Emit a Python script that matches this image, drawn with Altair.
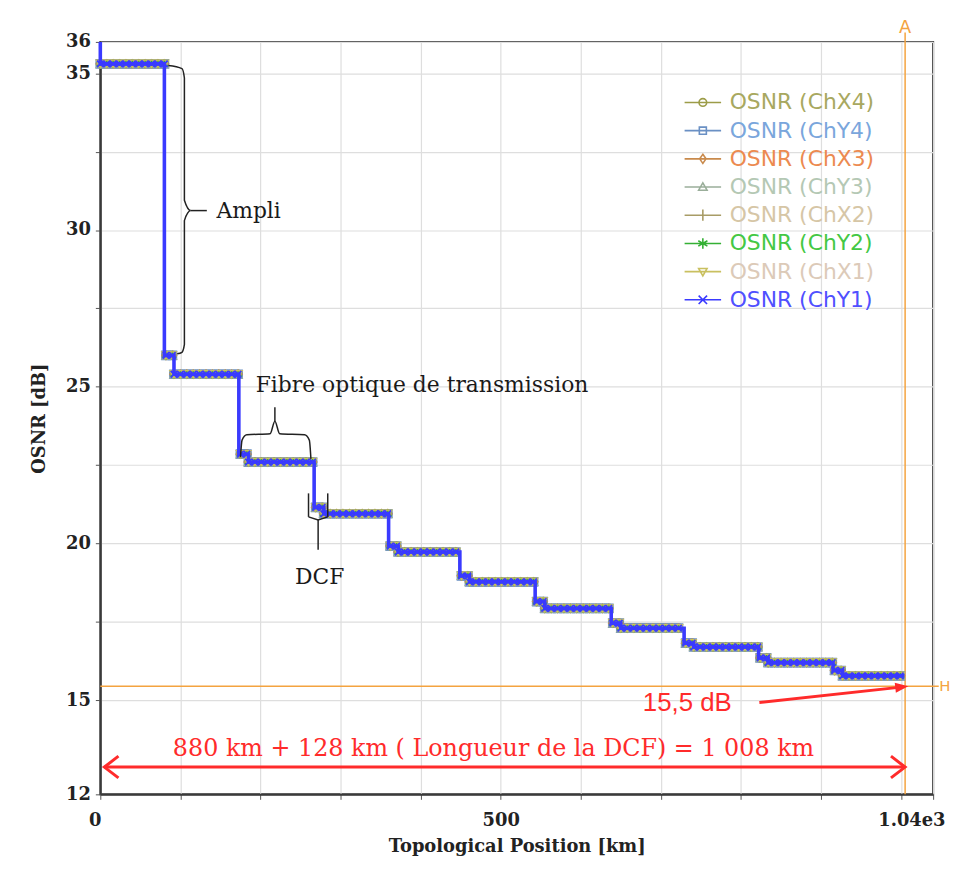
import json
import altair as alt
import numpy as np
import pandas as pd

# ---------------- data ----------------
series_names = ["OSNR (ChX4)", "OSNR (ChY4)", "OSNR (ChX3)", "OSNR (ChY3)",
                "OSNR (ChX2)", "OSNR (ChY2)", "OSNR (ChX1)", "OSNR (ChY1)"]
line_colors = ["#9c9c48", "#6a90c4", "#c98a4c", "#9aae9a",
               "#a89c66", "#34b034", "#c9c060", "#3a3aff"]
label_colors = ["#a8a860", "#7aa6dc", "#ec8a50", "#b4c8b4",
                "#d6c6a6", "#44c844", "#dccab8", "#5050ff"]

launch_osnr = 36.0
fiber_start_km = [0, 92, 185, 279, 372, 461, 555, 650, 741, 834, 927]
fiber_end_km = [80, 173, 267, 360, 449, 543, 638, 729, 822, 915, 1004]
fiber_osnr = [35.3, 25.4, 22.6, 20.95, 19.73, 18.78, 17.93, 17.3, 16.7, 16.2, 15.78]
dcf_osnr = [26.0, 22.85, 21.15, 19.92, 18.97, 18.15, 17.46, 16.82, 16.35, 15.95]

x_tick_values = [0, 100, 200, 300, 400, 500, 600, 700, 800, 900, 1000, 1040]
x_tick_labels = ["0", "", "", "", "", "500", "", "", "", "", "", "1.04e3"]
y_tick_values = [12, 15, 17.5, 20, 22.5, 25, 27.5, 30, 32.5, 35, 36]
y_tick_labels = ["12", "15", "", "20", "", "25", "", "30", "", "35", "36"]

cursor_km = 1005
cursor_osnr = 15.45
cursor_label = "15,5 dB"
total_text = "880 km + 128 km ( Longueur de la DCF) = 1 008 km"

# annotation geometry (km, dB)
ampli_brace_km = [85, 102, 105, 105, 113, 105, 105, 102, 96]
ampli_brace_db = [35.25, 35.15, 34.85, 30.95, 30.62, 30.3, 26.35, 26.1, 26.05]
ampli_tick_km = [113, 133]
ampli_tick_db = [30.62, 30.62]
fibre_brace_km = [175, 177, 183, 212, 218, 224, 255, 261, 263]
fibre_brace_db = [22.75, 23.3, 23.47, 23.5, 23.9, 23.5, 23.47, 23.3, 22.7]
fibre_stem_km = [218, 218]
fibre_stem_db = [23.9, 24.35]
dcf_left_km = [260, 260]
dcf_left_db = [21.6, 20.85]
dcf_right_km = [284, 284]
dcf_right_db = [21.6, 20.85]
dcf_v_km = [260, 272, 284]
dcf_v_db = [20.85, 20.75, 20.85]
dcf_stem_km = [272, 272]
dcf_stem_db = [20.75, 19.8]

# ---------------- styling ----------------
MARKER_STEP_KM = 8
SERIF = "DejaVu Serif"
RED = "#ff2b2b"
ORANGE = "#f4a340"
point_shapes = ["circle", "square", "diamond", "triangle-up",
                "M0,-1L0,1M-1,0L1,0",
                "M0,-1L0,1M-0.87,-0.5L0.87,0.5M-0.87,0.5L0.87,-0.5",
                "triangle-down",
                "M-1,-1L1,1M-1,1L1,-1"]
L = "M-2.6,0L2.6,0"
legend_paths = [
    L + "M-0.55,0A0.55,0.55,0,1,1,0.55,0A0.55,0.55,0,1,1,-0.55,0Z",
    L + "M-0.5,-0.5L0.5,-0.5L0.5,0.5L-0.5,0.5Z",
    L + "M0,-0.65L0.45,0L0,0.65L-0.45,0Z",
    L + "M0,-0.6L0.6,0.45L-0.6,0.45Z",
    L + "M0,-0.8L0,0.8",
    L + "M0,-0.75L0,0.75M-0.65,-0.38L0.65,0.38M-0.65,0.38L0.65,-0.38",
    L + "M-0.6,-0.45L0.6,-0.45L0,0.6Z",
    L + "M-0.6,-0.6L0.6,0.6M-0.6,0.6L0.6,-0.6",
]

# ---------------- build tables ----------------
step_pts = [(0, launch_osnr)]
for i in range(len(fiber_osnr)):
    step_pts.append((fiber_start_km[i], fiber_osnr[i]))
    step_pts.append((fiber_end_km[i], fiber_osnr[i]))
    if i < len(dcf_osnr):
        step_pts.append((fiber_end_km[i], dcf_osnr[i]))
        step_pts.append((fiber_start_km[i + 1], dcf_osnr[i]))

marker_pts = []
for i in range(len(fiber_osnr)):
    for xv in np.arange(fiber_start_km[i], fiber_end_km[i] + 0.01, MARKER_STEP_KM):
        marker_pts.append((float(xv), fiber_osnr[i]))
    if i < len(dcf_osnr):
        marker_pts.append((fiber_end_km[i] + 2, dcf_osnr[i]))
        marker_pts.append((fiber_start_km[i + 1] - 2, dcf_osnr[i]))

line_rows, pt_rows = [], []
for name in series_names:
    for k, (xv, yv) in enumerate(step_pts):
        line_rows.append({"series": name, "k": k, "km": xv, "osnr": yv})
    for xv, yv in marker_pts:
        pt_rows.append({"series": name, "km": xv, "osnr": yv})
lines_df = pd.DataFrame(line_rows)
pts_df = pd.DataFrame(pt_rows)
under_lines = lines_df[lines_df.series != series_names[-1]]
top_line = lines_df[lines_df.series == series_names[-1]]
under_pts = pts_df[pts_df.series != series_names[-1]]
top_pts = pts_df[pts_df.series == series_names[-1]]

xs = alt.Scale(domain=[0, 1040], nice=False, zero=False)
ys = alt.Scale(domain=[12, 36], nice=False, zero=False)
cscale = alt.Scale(domain=series_names, range=line_colors)

names_js = json.dumps(series_names)
label_color_expr = f"{json.dumps(label_colors)}[indexof({names_js}, datum.value)]"
symbol_color_expr = f"{json.dumps(line_colors)}[indexof({names_js}, datum.value)]"

X = alt.X("km:Q", scale=xs, axis=alt.Axis(
    title="Topological Position [km]", values=x_tick_values,
    labelExpr=f"{json.dumps(x_tick_labels)}[indexof({json.dumps(x_tick_values)}, datum.value)]",
    labelFlush=True, labelFlushOffset=12))
Y = alt.Y("osnr:Q", scale=ys, axis=alt.Axis(
    title="OSNR [dB]", values=y_tick_values,
    labelExpr=f"{json.dumps(y_tick_labels)}[indexof({json.dumps(y_tick_values)}, datum.value)]"))

base_lines = alt.Chart(under_lines).mark_line(strokeWidth=2).encode(
    x=X, y=Y, color=alt.Color("series:N", scale=cscale, legend=None), order="k:Q")
base_pts = alt.Chart(under_pts).mark_point(filled=False, size=72, strokeWidth=1.3, opacity=1).encode(
    x="km:Q", y="osnr:Q", color=alt.Color("series:N", scale=cscale, legend=None),
    shape=alt.Shape("series:N", scale=alt.Scale(domain=series_names, range=point_shapes), legend=None))
blue_line = alt.Chart(top_line).mark_line(strokeWidth=3.6, color=line_colors[-1]).encode(
    x="km:Q", y="osnr:Q", order="k:Q")
blue_pts = alt.Chart(top_pts).mark_point(filled=False, size=44, strokeWidth=1.7, opacity=1,
                                         shape=point_shapes[-1], color=line_colors[-1]).encode(
    x="km:Q", y="osnr:Q")

leg_common = dict(orient="none", legendX=588, legendY=50, title=None,
                  labelFont="DejaVu Sans", labelFontSize=22, labelColor={"expr": label_color_expr},
                  symbolSize=200, symbolStrokeWidth=1.6, symbolOpacity=1, symbolFillColor="transparent",
                  symbolStrokeColor={"expr": symbol_color_expr},
                  rowPadding=6.4, labelOffset=16, symbolOffset=8)
legend_layer = alt.Chart(pd.DataFrame({"series": series_names})).mark_point(
    filled=False, opacity=0).encode(
    x=alt.datum(500), y=alt.datum(24),
    color=alt.Color("series:N", scale=cscale, legend=alt.Legend(**leg_common)),
    shape=alt.Shape("series:N", scale=alt.Scale(domain=series_names, range=legend_paths),
                    legend=alt.Legend(**leg_common)))

# orange cursors
vcur = alt.Chart(pd.DataFrame({"km": [cursor_km], "y0": [36.3], "y1": [12]})).mark_rule(
    color=ORANGE, strokeWidth=1.5).encode(x="km:Q", y="y0:Q", y2="y1:Q")
vcur_lbl = alt.Chart(pd.DataFrame({"km": [cursor_km], "osnr": [36.45], "t": ["A"]})).mark_text(
    color=ORANGE, font="DejaVu Sans", fontSize=18, baseline="middle").encode(x="km:Q", y="osnr:Q", text="t:N")
hcur = alt.Chart(pd.DataFrame({"x0": [0], "x1": [1047], "osnr": [cursor_osnr]})).mark_rule(
    color=ORANGE, strokeWidth=1.5).encode(x="x0:Q", x2="x1:Q", y="osnr:Q")
hcur_lbl = alt.Chart(pd.DataFrame({"km": [1047.5], "osnr": [cursor_osnr], "t": ["H"]})).mark_text(
    color=ORANGE, font="DejaVu Sans", fontSize=15, align="left", baseline="middle").encode(
    x="km:Q", y="osnr:Q", text="t:N")

# black annotations
def poly(xv, yv, gid):
    return pd.DataFrame({"km": xv, "osnr": yv, "k": list(range(len(xv))), "g": gid})

brace_df = pd.concat([
    poly(ampli_brace_km, ampli_brace_db, "a"), poly(fibre_brace_km, fibre_brace_db, "c")])
straight_df = pd.concat([
    poly(ampli_tick_km, ampli_tick_db, "b"), poly(fibre_stem_km, fibre_stem_db, "d"),
    poly(dcf_left_km, dcf_left_db, "e"), poly(dcf_right_km, dcf_right_db, "f"),
    poly(dcf_v_km, dcf_v_db, "g"), poly(dcf_stem_km, dcf_stem_db, "h")])
brace_lines = alt.Chart(brace_df).mark_line(color="#222222", strokeWidth=1.5, interpolate="monotone").encode(
    x="km:Q", y="osnr:Q", detail="g:N", order="k:Q")
straight_lines = alt.Chart(straight_df).mark_line(color="#222222", strokeWidth=1.5).encode(
    x="km:Q", y="osnr:Q", detail="g:N", order="k:Q")
annot_src = pd.DataFrame({
    "km": [145, 194, 274], "osnr": [30.62, 25.05, 18.94],
    "t": ["Ampli", "Fibre optique de transmission", "DCF"], "al": ["left", "left", "center"]})
annot_txt_l = alt.Chart(annot_src).transform_filter("datum.al == 'left'").mark_text(
    font=SERIF, fontSize=22, color="#1a1a1a", baseline="middle", align="left").encode(
    x="km:Q", y="osnr:Q", text="t:N")
annot_txt_c = alt.Chart(annot_src).transform_filter("datum.al == 'center'").mark_text(
    font=SERIF, fontSize=22, color="#1a1a1a", baseline="middle", align="center").encode(
    x="km:Q", y="osnr:Q", text="t:N")

# red annotations
tot_rule = alt.Chart(pd.DataFrame({"x0": [5], "x1": [cursor_km], "osnr": [12.87]})).mark_rule(
    color=RED, strokeWidth=3).encode(x="x0:Q", x2="x1:Q", y="osnr:Q")
heads = pd.DataFrame({"km": [5, cursor_km], "osnr": [12.87, 12.87], "side": ["l", "r"]})
head_l = alt.Chart(heads).transform_filter("datum.side == 'l'").mark_point(
    shape="M1.3,-1L0,0L1.3,1", size=480, filled=False, strokeWidth=3, color=RED, opacity=1).encode(
    x="km:Q", y="osnr:Q")
head_r = alt.Chart(heads).transform_filter("datum.side == 'r'").mark_point(
    shape="M-1.3,-1L0,0L-1.3,1", size=480, filled=False, strokeWidth=3, color=RED, opacity=1).encode(
    x="km:Q", y="osnr:Q")
tot_txt = alt.Chart(pd.DataFrame({"km": [491], "osnr": [13.45], "t": [total_text]})).mark_text(
    font=SERIF, fontSize=24, color=RED, baseline="middle").encode(x="km:Q", y="osnr:Q", text="t:N")
osnr_arrow = alt.Chart(pd.DataFrame({"x0": [823], "y0": [14.93], "x1": [1000], "y1": [15.42]})).mark_rule(
    color=RED, strokeWidth=3).encode(x="x0:Q", y="y0:Q", x2="x1:Q", y2="y1:Q")
osnr_head = alt.Chart(pd.DataFrame({"km": [1009], "osnr": [15.45]})).mark_point(
    shape="M0,0L-2.2,-0.85L-2.2,0.85Z", size=144, filled=True, color=RED, opacity=1, angle=353.5).encode(
    x="km:Q", y="osnr:Q")
osnr_txt = alt.Chart(pd.DataFrame({"km": [733], "osnr": [14.92], "t": [cursor_label]})).mark_text(
    font="Liberation Sans Narrow, Liberation Sans", fontSize=26, color=RED, baseline="middle").encode(
    x="km:Q", y="osnr:Q", text="t:N")

chart = alt.layer(
    hcur, vcur, base_lines, base_pts, blue_line, blue_pts, legend_layer,
    brace_lines, straight_lines, annot_txt_l, annot_txt_c, tot_rule, head_l, head_r, tot_txt,
    osnr_arrow, osnr_head, osnr_txt, vcur_lbl, hcur_lbl,
).resolve_scale(shape="independent").properties(
    width=839, height=758,
    autosize=alt.AutoSizeParams(type="none"),
    padding={"left": 93, "top": 31, "right": 19, "bottom": 66},
    background="white",
).configure_view(
    stroke="#3a3a3a", strokeWidth=2
).configure_axis(
    labelFont=SERIF, labelFontWeight="bold", labelFontSize=18, labelColor="#222222",
    titleFont=SERIF, titleFontWeight="bold", titleFontSize=18, titleColor="#222222",
    domainColor="#3a3a3a", domainWidth=2, tickColor="#555555", tickSize=5,
    gridColor="#dedede", gridWidth=1.2,
).configure_axisX(labelPadding=12, titlePadding=9).configure_axisY(labelPadding=5, titlePadding=17)

chart.save("out.html", embed_options={"renderer": "svg", "actions": False})
